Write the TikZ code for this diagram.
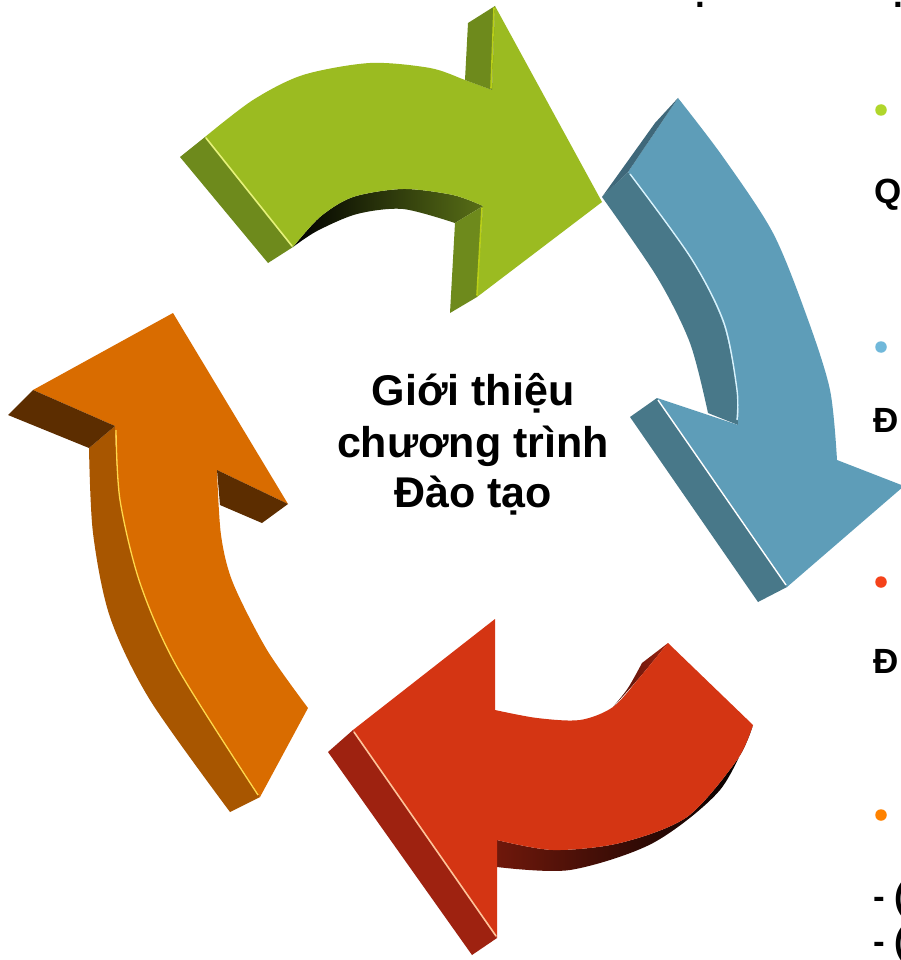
\documentclass[tikz,border=0pt]{standalone}
\usepackage{fontspec}
\setmainfont{Liberation Sans}
\definecolor{gfront}{HTML}{9BBB21}
\definecolor{gside}{HTML}{6E8A1C}
\definecolor{ghi}{HTML}{E6F27A}
\definecolor{bfront}{HTML}{5E9DB8}
\definecolor{bside}{HTML}{487889}
\definecolor{bside2}{HTML}{3F687A}
\definecolor{rfront}{HTML}{D43513}
\definecolor{rside}{HTML}{9E2210}
\definecolor{rhi}{HTML}{FFC49A}
\definecolor{ofront}{HTML}{D96C00}
\definecolor{oside}{HTML}{A85600}
\definecolor{oside2}{HTML}{5C2D00}
\definecolor{ohi}{HTML}{FFD84A}
\definecolor{bulg}{HTML}{B0D62B}
\definecolor{bulb}{HTML}{70B8DA}
\definecolor{bulr}{HTML}{F5421A}
\definecolor{bulo}{HTML}{FF8200}
\tikzset{
  hiline/.style={line width=1.6pt, line cap=round},
  bulletdot/.style={circle, inner sep=0pt, minimum size=11.5pt},
  centertext/.style={anchor=base, font=\fontsize{43}{50}\bfseries\selectfont, inner sep=0pt},
  sidetext/.style={anchor=base west, font=\fontsize{35}{40}\bfseries\selectfont, inner sep=0pt}
}
\begin{document}
\begin{tikzpicture}[x=1pt,y=-1pt,line join=round]
\useasboundingbox (0,0) rectangle (901,960);
\fill[white] (0,0) rectangle (901,960);

% ---------- green arrow ----------
\shade[left color=black, right color=gside!80!black]
  (293,247) -- plot[smooth] coordinates {(293,247) (320,217) (353,197) (403,189) (453,195) (483,206)}
  -- (455,223) -- plot[smooth] coordinates {(455,223) (403,209) (357,214) (317,231) (293,247)} -- cycle;
\fill[gfront]
  (205,137) -- plot[smooth] coordinates {(205,137) (253,100) (303,75) (370,63) (430,68) (465,80) (492,90)}
  -- (495,6) -- (602,202) -- (477,297) -- (483,206)
  -- plot[smooth] coordinates {(483,206) (453,195) (403,189) (353,197) (320,217) (293,247)} -- cycle;
\fill[gside] (180,157) -- (205,137) -- (293,247) -- (268,263) -- cycle;
\fill[gside] (465,80) -- (468,23) -- (495,6) -- (492,90) -- cycle;
\fill[gside] (455,223) -- (483,206) -- (477,297) -- (450,313) -- cycle;
\draw[ghi, hiline] (206,138) -- (292,246);
\draw[gfront!70!yellow, hiline] (494,8) -- (491,88);
\draw[gfront!70!yellow, hiline] (482,208) -- (477,295);

% ---------- blue arrow ----------
\fill[bside]
  (602,197) -- plot[smooth] coordinates {(602,197) (657,277) (690,343) (708,413)}
  -- (738,425) -- plot[smooth] coordinates {(738,425) (737,390) (723,323) (690,257) (628,172)} -- cycle;
\fill[bfront]
  (628,172) -- (678,98)
  -- plot[smooth] coordinates {(678,98) (723,157) (773,233) (807,317) (830,390) (837,460)}
  -- (904,486) -- (787,587) -- (657,398) -- (738,425)
  -- plot[smooth] coordinates {(738,425) (737,390) (723,323) (690,257) (628,172)} -- cycle;
\fill[bside2] (602,197) -- (628,172) -- (678,98) -- (655,123) -- cycle;
\fill[bside] (630,417) -- (657,398) -- (787,587) -- (758,602) -- cycle;
\draw[white!85!cyan, line width=1.4pt]
  plot[smooth] coordinates {(630,174) (691,258) (724,323) (737,390) (737,420)};
\draw[white, line width=1.4pt] (658,400) -- (786,585);

% ---------- red arrow ----------
\shade[left color=rside!70!black, right color=black]
  (497,840) -- plot[smooth] coordinates {(497,840) (553,850) (620,843) (687,817) (737,760) (753,725)}
  -- plot[smooth] coordinates {(753,725) (720,790) (653,843) (570,870) (497,867)} -- cycle;
\shade[left color=rside!50!black, right color=rside]
  (668,643) -- (642,663) -- plot[smooth] coordinates {(642,663) (628,688) (613,707)}
  -- plot[smooth] coordinates {(613,707) (640,677) (668,643)} -- cycle;
\fill[rfront]
  (353,730) -- (495,619) -- (495,710)
  -- plot[smooth] coordinates {(495,710) (537,718) (580,720) (613,707) (640,677) (668,643)}
  -- (753,725)
  -- plot[smooth] coordinates {(753,725) (737,760) (687,817) (620,843) (553,850) (497,840)}
  -- (497,938) -- cycle;
\fill[rside] (328,752) -- (353,730) -- (497,938) -- (472,955) -- cycle;
\draw[rhi, hiline] (354,732) -- (496,936);

% ---------- orange arrow ----------
\fill[oside]
  (89,448) -- plot[smooth] coordinates {(89,448) (93,533) (110,617) (150,700) (230,812)}
  -- (260,797) -- plot[smooth] coordinates {(260,797) (177,667) (140,583) (120,500) (115,426)} -- cycle;
\fill[ofront]
  (173,313) -- (288,504) -- (217,470)
  -- plot[smooth] coordinates {(217,470) (221,535) (233,583) (267,650) (308,708)}
  -- (260,797)
  -- plot[smooth] coordinates {(260,797) (177,667) (140,583) (120,500) (115,426)}
  -- (33,390) -- cycle;
\fill[oside2] (8,415) -- (33,390) -- (115,426) -- (89,448) -- cycle;
\fill[oside2] (217,470) -- (288,504) -- (262,523) -- (220,505) -- cycle;
\draw[ohi, line width=1.3pt]
  plot[smooth] coordinates {(116,430) (120,500) (140,583) (177,667) (258,795)};

% ---------- centre text ----------
\node[centertext] (t1) at (473,405) {Giới thiệu};
\node[centertext] (t2) at (473,457) {chương trình};
\node[centertext] (t3) at (473,507) {Đào tạo};

% ---------- right-hand list (cropped) ----------
\node[sidetext] (p1) at (695.5,8) {.};
\node[sidetext] (p2) at (893.5,8) {.};
\node[bulletdot, fill=bulg] (b1) at (881,110) {};
\node[sidetext] (l1) at (874,203) {Q};
\node[bulletdot, fill=bulb] (b2) at (881,347) {};
\node[sidetext] (l2) at (873,432) {Đ};
\node[bulletdot, fill=bulr] (b3) at (881,582) {};
\node[sidetext] (l3) at (873,673) {Đ};
\node[bulletdot, fill=bulo] (b4) at (881,815) {};
\node[sidetext] (l4) at (873,908) {- (};
\node[sidetext] (l5) at (873,953) {- (};
\end{tikzpicture}
\end{document}
